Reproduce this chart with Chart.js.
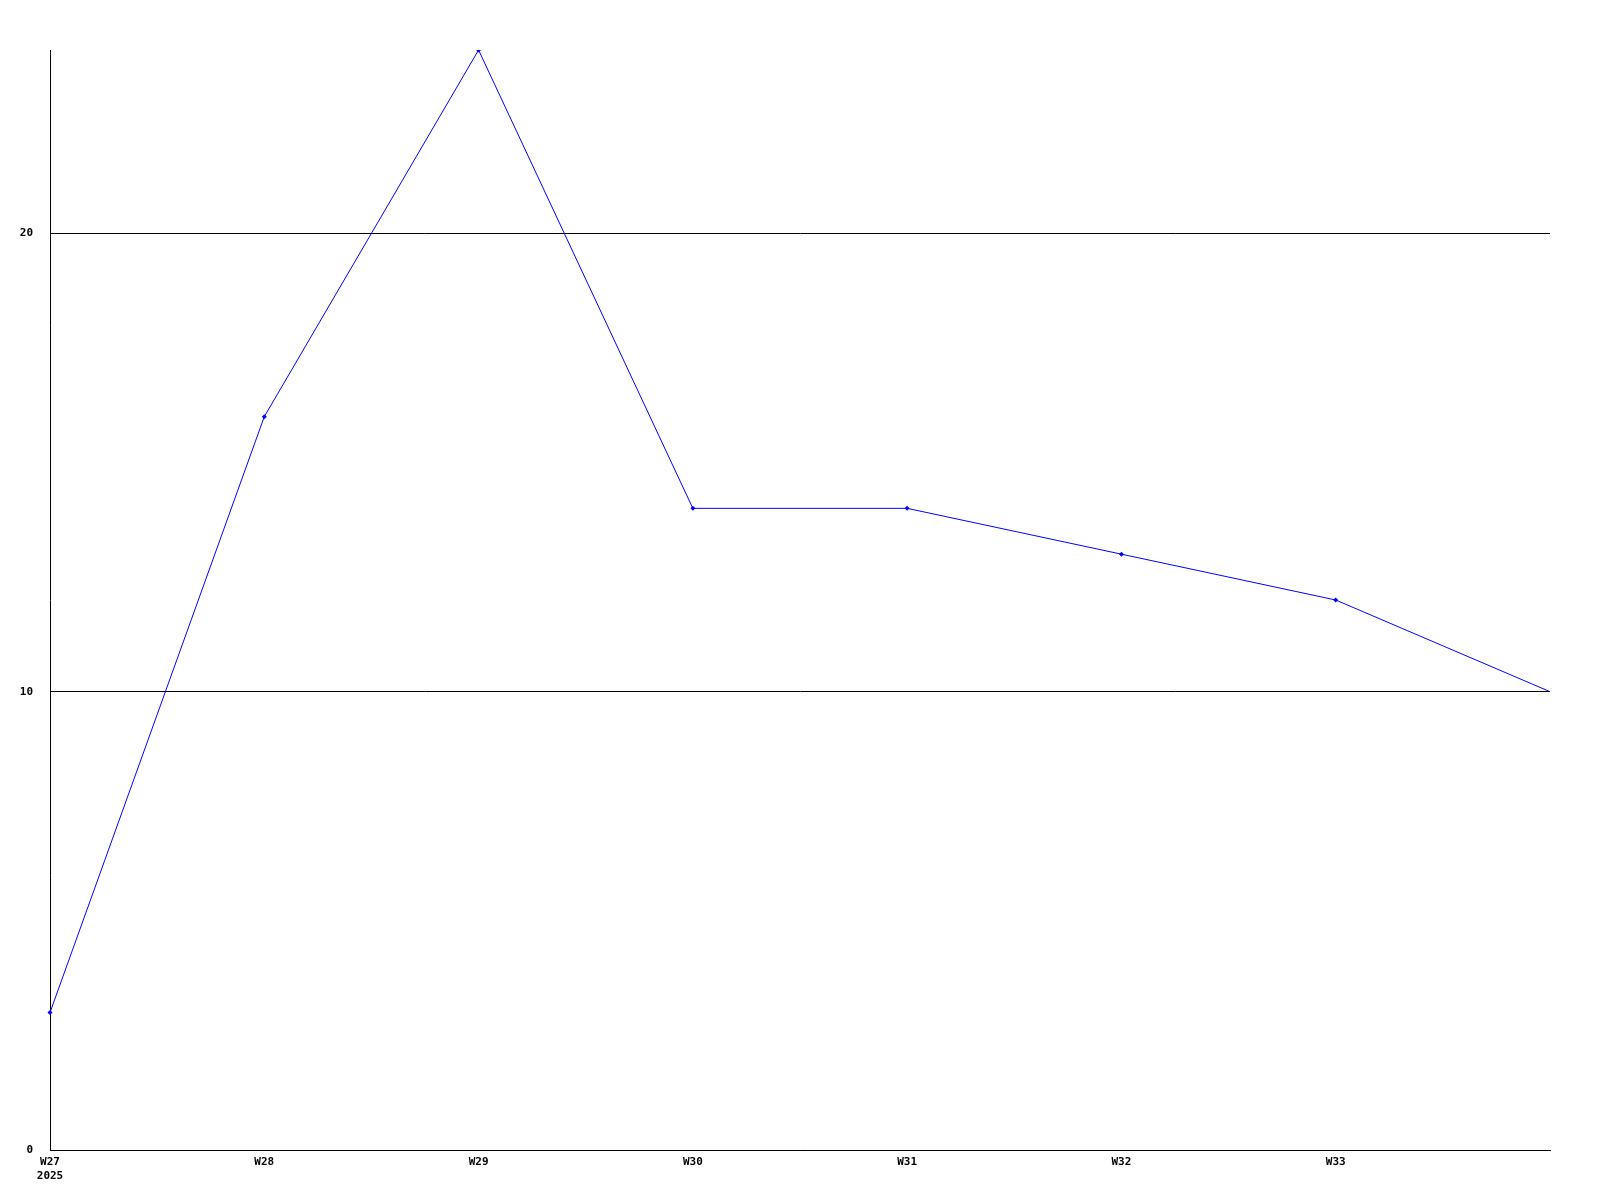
<!DOCTYPE html>
<html>
<head>
<meta charset="utf-8">
<script src="https://cdn.jsdelivr.net/npm/chart.js@4"></script>
<style>
  html, body { margin: 0; padding: 0; background: #fff; }
  #wrap { width: 1600px; height: 1200px; }
</style>
</head>
<body>
<div id="wrap"><canvas id="chart" width="1600" height="1200"></canvas></div>
<script>
const weeks = ['W27', 'W28', 'W29', 'W30', 'W31', 'W32', 'W33', 'W34'];
const tickLabels = [['W27', '2025'], 'W28', 'W29', 'W30', 'W31', 'W32', 'W33', ''];
const counts = [3, 16, 24, 14, 14, 13, 12, 10];
const yTicks = [0, 10, 20];

const font = { family: "'DejaVu Sans Mono', monospace", size: 11, weight: 'bold' };

new Chart(document.getElementById('chart'), {
  type: 'line',
  data: {
    labels: weeks,
    datasets: [{
      data: counts,
      borderColor: '#0000ff',
      backgroundColor: '#0000ff',
      borderWidth: 1,
      pointStyle: 'rectRot',
      // the last (partial) week has no marker in the original
      pointRadius: (ctx) => (ctx.dataIndex === counts.length - 1 ? 0 : 2.5),
      pointBorderWidth: 0,
      tension: 0,
      fill: false,
    }],
  },
  options: {
    responsive: false,
    animation: false,
    layout: { padding: { top: 50, right: 50, left: 0, bottom: 0 } },
    plugins: { legend: { display: false }, tooltip: { enabled: false } },
    scales: {
      x: {
        offset: false,
        grid: { display: false, drawTicks: false },
        border: { color: '#000', width: 1 },
        ticks: {
          color: '#000', font, padding: 6, maxRotation: 0, autoSkip: false,
          callback: (v, i) => tickLabels[i],
        },
        afterFit: (s) => { s.height = 50; },
      },
      y: {
        min: 0,
        max: 24,
        afterBuildTicks: (s) => { s.ticks = yTicks.map((v) => ({ value: v })); },
        grid: { color: '#000', lineWidth: 1, drawTicks: false },
        border: { color: '#000', width: 1 },
        ticks: { color: '#000', font, padding: 17 },
        afterFit: (s) => { s.width = 50; },
      },
    },
  },
});
</script>
</body>
</html>
